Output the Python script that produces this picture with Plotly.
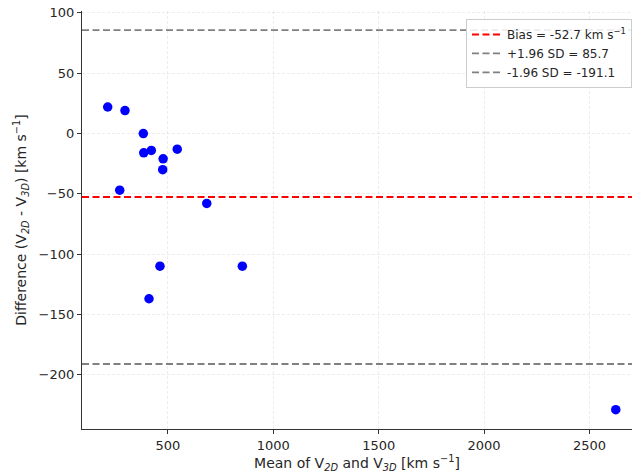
import plotly.graph_objects as go

# Bland-Altman data
mean_vals = [214, 296, 383, 385, 421, 477, 475, 544, 271, 684, 462, 853, 410, 2625]
diff_vals = [22, 19, 0, -16, -14, -21, -30, -13, -47, -58, -110, -110, -137, -229]

bias = -52.7
upper = 85.7
lower = -191.1

x_range = [92, 2702]
y_range = [-245, 101.6]

x_ticks = [500, 1000, 1500, 2000, 2500]
y_ticks = [-200, -150, -100, -50, 0, 50, 100]

FONT = "DejaVu Sans"
dash = "7px,3.5px"

fig = go.Figure()

fig.add_trace(go.Scatter(
    x=mean_vals, y=diff_vals, mode="markers",
    marker=dict(color="#0000ff", size=9.5),
    showlegend=False, hoverinfo="skip",
))

fig.add_trace(go.Scatter(
    x=x_range, y=[bias, bias], mode="lines",
    line=dict(color="#ff0000", width=2, dash=dash),
    name="Bias = -52.7 km s<sup>−1</sup>",
))
fig.add_trace(go.Scatter(
    x=x_range, y=[upper, upper], mode="lines",
    line=dict(color="#808080", width=1.8, dash=dash),
    name="+1.96 SD = 85.7",
))
fig.add_trace(go.Scatter(
    x=x_range, y=[lower, lower], mode="lines",
    line=dict(color="#808080", width=1.8, dash=dash),
    name="-1.96 SD = -191.1",
))

axis_common = dict(
    showline=True, linecolor="#333333", linewidth=1.2,
    ticks="outside", ticklen=4, tickcolor="#333333", tickwidth=1,
    showgrid=True, gridcolor="rgba(0,0,0,0.07)", griddash="3px,2px", gridwidth=1,
    zeroline=False,
    tickfont=dict(family=FONT, size=13, color="#262626"),
    mirror=False,
)

fig.update_xaxes(
    range=x_range, tickvals=x_ticks, **axis_common,
    title=dict(text="Mean of V<sub><i>2D</i></sub> and V<sub><i>3D</i></sub> [km s<sup>−1</sup>]",
               font=dict(family=FONT, size=14, color="#262626"), standoff=6),
)
fig.update_yaxes(
    range=y_range, tickvals=y_ticks, **axis_common,
    title=dict(text="Difference (V<sub><i>2D</i></sub> - V<sub><i>3D</i></sub>) [km s<sup>−1</sup>]",
               font=dict(family=FONT, size=14, color="#262626"), standoff=8),
)

fig.update_layout(
    width=632, height=476,
    margin=dict(l=82, r=0, t=11, b=47, autoexpand=False),
    plot_bgcolor="white", paper_bgcolor="white",
    font=dict(family=FONT, color="#262626"),
    legend=dict(
        x=1.0, xanchor="right", y=0.981, yanchor="top",
        bgcolor="rgba(255,255,255,0.85)", bordercolor="#cccccc", borderwidth=1,
        font=dict(family=FONT, size=12, color="#262626"),
        itemwidth=30, tracegroupgap=0,
    ),
)

fig.write_html("out.html")
